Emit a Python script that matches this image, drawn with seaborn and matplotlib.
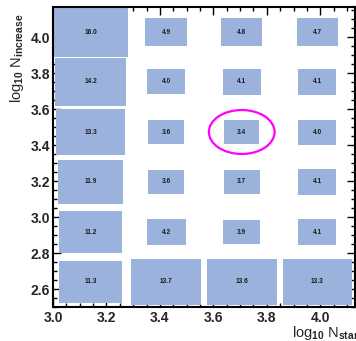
# ROOT-style 2D box histogram: box area follows the cell content
import numpy as np
import pandas as pd
import seaborn as sns
import matplotlib
matplotlib.use("Agg")
from matplotlib import pyplot as plt
from matplotlib.path import Path
from matplotlib.patches import Ellipse
from matplotlib.ticker import MultipleLocator

# histogram binning (log10 N_start on x, log10 N_increase on y)
x_edges = np.linspace(3.0, 4.13, 5)
y_edges = np.linspace(2.5, 4.1667, 7)

# cell contents, one list per row, from the bottom row to the top row
row_1 = [11.3, 13.7, 13.6, 13.3]
row_2 = [11.2, 4.2, 3.9, 4.1]
row_3 = [11.9, 3.6, 3.7, 4.1]
row_4 = [13.3, 3.6, 3.4, 4.0]
row_5 = [14.2, 4.0, 4.1, 4.1]
row_6 = [16.0, 4.9, 4.8, 4.7]

rows = [row_1, row_2, row_3, row_4, row_5, row_6]
x_mid = (x_edges[:-1] + x_edges[1:]) / 2
y_mid = (y_edges[:-1] + y_edges[1:]) / 2
cells = pd.DataFrame([
    {"x": x_mid[i], "y": y_mid[j], "value": v}
    for j, row in enumerate(rows) for i, v in enumerate(row)
])

sns.set_theme(style="ticks")
plt.rcParams["font.family"] = ["Liberation Sans", "DejaVu Sans"]
plt.rcParams["font.weight"] = "bold"
plt.rcParams["mathtext.fontset"] = "custom"
plt.rcParams["mathtext.rm"] = "Liberation Sans:bold"
plt.rcParams["mathtext.bf"] = "Liberation Sans:bold"
plt.rcParams["mathtext.default"] = "bf"

W, H, DPI = 356, 341, 100
fig = plt.figure(figsize=(W / DPI, H / DPI), dpi=DPI)
ax_px = (53, 34, 302, 300)  # left, bottom, width, height in pixels
ax = fig.add_axes([ax_px[0] / W, ax_px[1] / H, ax_px[2] / W, ax_px[3] / H])

# rectangular marker with the aspect of one bin; side ~ sqrt(content)
bin_w_px = ax_px[2] / (len(x_edges) - 1)
bin_h_px = ax_px[3] / (len(y_edges) - 1)
a = bin_h_px / bin_w_px
rect = Path([(-1, -a), (1, -a), (1, a), (-1, a), (-1, -a)],
            [Path.MOVETO, Path.LINETO, Path.LINETO, Path.LINETO, Path.CLOSEPOLY])
vmin, vmax = cells["value"].min(), cells["value"].max()
full = (bin_w_px * 72 / DPI) ** 2
sns.scatterplot(data=cells, x="x", y="y", size="value",
                sizes=(full * vmin / vmax, full), size_norm=(vmin, vmax),
                marker=rect, color="#9bb3dc", linewidth=0, alpha=1,
                legend=False, ax=ax)

for _, c in cells.iterrows():
    ax.text(c["x"], c["y"], f"{c['value']:.1f}", ha="center", va="center",
            fontsize=4.7, fontweight="bold", color="#1a1a1a")

# highlight the smallest cell
best = cells.loc[cells["value"].idxmin()]
ax.add_patch(Ellipse((best["x"], best["y"]),
                     width=0.87 * np.diff(x_edges)[0],
                     height=0.88 * np.diff(y_edges)[0],
                     fill=False, edgecolor="#ff00ff", linewidth=1.6))

ax.set_xlim(x_edges[0], x_edges[-1])
ax.set_ylim(y_edges[0], y_edges[-1])
for axis in (ax.xaxis, ax.yaxis):
    axis.set_major_locator(MultipleLocator(0.2))
    axis.set_minor_locator(MultipleLocator(0.05))
ax.tick_params(which="both", direction="in", top=True, right=True,
               width=1.0, color="black", labelsize=10)
ax.tick_params(which="major", length=6)
ax.tick_params(which="minor", length=3)
ax.tick_params(axis="x", pad=3)
ax.tick_params(axis="y", pad=2)
for s in ax.spines.values():
    s.set_linewidth(1.5)
    s.set_color("black")

ax.set_xlabel(r"log$_{10}$ N$_{start}$", fontsize=10.5)
ax.xaxis.label.set_ha("left")
ax.xaxis.set_label_coords(0.791, -0.055)
ax.set_ylabel(r"log$_{10}$ N$_{increase}$", fontsize=10.5)
ax.yaxis.label.set_ha("right")
ax.yaxis.set_label_coords(-0.09, 0.977)

fig.savefig("out.png", dpi=DPI)
